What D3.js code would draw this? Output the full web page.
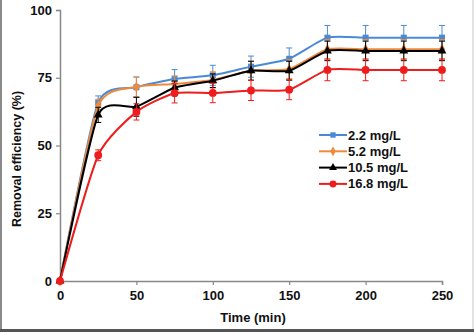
<!DOCTYPE html>
<html>
<head>
<meta charset="utf-8">
<script src="https://cdn.jsdelivr.net/npm/d3@7"></script>
<style>
  body { margin: 0; background: #fff; }
  svg { display: block; font-family: Arial, "Liberation Sans", sans-serif; }
  .tick text { font-weight: bold; font-size: 13px; fill: #111; }
</style>
</head>
<body>
<div id="chart"></div>
<script>
// data
var times = [0, 25, 50, 75, 100, 125, 150, 175, 200, 225, 250];
var seriesNames = ["2.2 mg/L", "5.2 mg/L", "10.5 mg/L", "16.8 mg/L"];
var eff22 = [0, 65.8, 71.5, 74.5, 75.9, 79.1, 82.0, 89.8, 89.8, 89.8, 89.8];
var eff52 = [0, 64.6, 71.6, 72.7, 74.2, 77.6, 78.2, 85.5, 85.5, 85.5, 85.5];
var eff105 = [0, 61.3, 64.3, 71.3, 73.9, 77.6, 77.6, 84.9, 84.9, 84.9, 84.9];
var eff168 = [0, 46.4, 62.4, 69.3, 69.4, 70.3, 70.6, 77.9, 77.9, 77.9, 77.9];
var err22 = [0, 2.5, 3.8, 3.5, 3.7, 3.9, 4.0, 4.5, 4.5, 4.5, 4.5];
var err52 = [0, 2.5, 3.6, 3.0, 3.0, 3.5, 3.5, 3.6, 3.6, 3.6, 3.6];
var err105 = [0, 2.8, 3.5, 2.5, 2.5, 3.5, 3.5, 3.6, 3.6, 3.6, 3.6];
var err168 = [0, 2.0, 3.0, 3.6, 3.6, 3.7, 3.7, 4.0, 4.0, 4.0, 4.0];
var xTicks = [0, 50, 100, 150, 200, 250];
var yTicks = [0, 25, 50, 75, 100];

var svgWidth = 474;
var svgHeight = 332;
var margin = { top: 10, right: 32, bottom: 51, left: 60 };
var width = svgWidth - margin.left - margin.right;
var height = svgHeight - margin.top - margin.bottom;

var svg = d3.select("#chart").append("svg")
  .attr("width", svgWidth)
  .attr("height", svgHeight);

// frame edges of the picture
svg.append("rect").attr("x", 0).attr("y", 0).attr("width", 2).attr("height", svgHeight).attr("fill", "#8a8a8a");
svg.append("rect").attr("x", 472).attr("y", 0).attr("width", 2).attr("height", svgHeight).attr("fill", "#e2e2e2");
svg.append("rect").attr("x", 0).attr("y", 329).attr("width", svgWidth).attr("height", 3).attr("fill", "#555");

var chartGroup = svg.append("g")
  .attr("transform", `translate(${margin.left}, ${margin.top})`);

var xScale = d3.scaleLinear().domain([0, 250]).range([0, width]);
var yScale = d3.scaleLinear().domain([0, 100]).range([height, 0]);

var xAxis = d3.axisBottom(xScale).tickValues(xTicks).tickSize(4).tickPadding(6);
var yAxis = d3.axisLeft(yScale).tickValues(yTicks).tickSize(4).tickPadding(4);

var gx = chartGroup.append("g").attr("transform", `translate(0, ${height})`).call(xAxis);
var gy = chartGroup.append("g").call(yAxis);
[gx, gy].forEach(function(g) {
  g.select(".domain").attr("stroke", "#888").attr("stroke-width", 1.5);
  g.selectAll(".tick line").attr("stroke", "#888").attr("stroke-width", 1.2);
});

var series = [
  { name: seriesNames[0], vals: eff22, errs: err22, color: "#4a8ad4", marker: d3.symbolSquare, size: 36 },
  { name: seriesNames[1], vals: eff52, errs: err52, color: "#ef8a3c", marker: d3.symbolDiamond, size: 34 },
  { name: seriesNames[2], vals: eff105, errs: err105, color: "#000", marker: d3.symbolTriangle, size: 34 },
  { name: seriesNames[3], vals: eff168, errs: err168, color: "#ee1c1c", marker: d3.symbolCircle, size: 48 }
];

// excel-like smoothing
var line = d3.line()
  .x(d => xScale(d.t))
  .y(d => yScale(d.v))
  .curve(d3.curveCardinal.tension(0.4));

series.forEach(function(s) {
  var pts = times.map(function(t, i) { return { t: t, v: s.vals[i], e: s.errs[i] }; });
  var g = chartGroup.append("g");

  var eb = g.selectAll(".err").data(pts.filter(d => d.e > 0)).enter().append("g");
  eb.append("line")
    .attr("x1", d => xScale(d.t)).attr("x2", d => xScale(d.t))
    .attr("y1", d => yScale(d.v - d.e)).attr("y2", d => yScale(d.v + d.e))
    .attr("stroke", s.color).attr("stroke-width", 1);
  [-1, 1].forEach(function(sign) {
    eb.append("line")
      .attr("x1", d => xScale(d.t) - 3).attr("x2", d => xScale(d.t) + 3)
      .attr("y1", d => yScale(d.v + sign * d.e)).attr("y2", d => yScale(d.v + sign * d.e))
      .attr("stroke", s.color).attr("stroke-width", 1);
  });

  g.append("path")
    .datum(pts)
    .attr("fill", "none")
    .attr("stroke", s.color)
    .attr("stroke-width", 2)
    .attr("d", line);

  g.selectAll(".mk").data(pts).enter().append("path")
    .attr("transform", d => `translate(${xScale(d.t)}, ${yScale(d.v)})`)
    .attr("d", d3.symbol().type(s.marker).size(s.size))
    .attr("fill", s.color);
});

// legend
var legend = svg.append("g").attr("transform", "translate(319, 135)");
series.forEach(function(s, i) {
  var row = legend.append("g").attr("transform", `translate(0, ${i * 16.3})`);
  row.append("line").attr("x1", 0).attr("x2", 28).attr("y1", 0).attr("y2", 0)
    .attr("stroke", s.color).attr("stroke-width", 2);
  row.append("path").attr("transform", "translate(14, 0)")
    .attr("d", d3.symbol().type(s.marker).size(s.size * 0.8))
    .attr("fill", s.color);
  row.append("text").attr("x", 29).attr("y", 0).attr("dy", "0.35em")
    .attr("font-size", 13).attr("font-weight", "bold").attr("fill", "#111")
    .text(s.name);
});

// axis titles
svg.append("text")
  .attr("transform", "translate(21, 159) rotate(-90)")
  .attr("text-anchor", "middle")
  .attr("font-size", 12.5).attr("font-weight", "bold").attr("fill", "#111")
  .text("Removal efficiency (%)");

svg.append("text")
  .attr("x", 253).attr("y", 322)
  .attr("text-anchor", "middle")
  .attr("font-size", 13).attr("font-weight", "bold").attr("fill", "#111")
  .text("Time (min)");
</script>
</body>
</html>
